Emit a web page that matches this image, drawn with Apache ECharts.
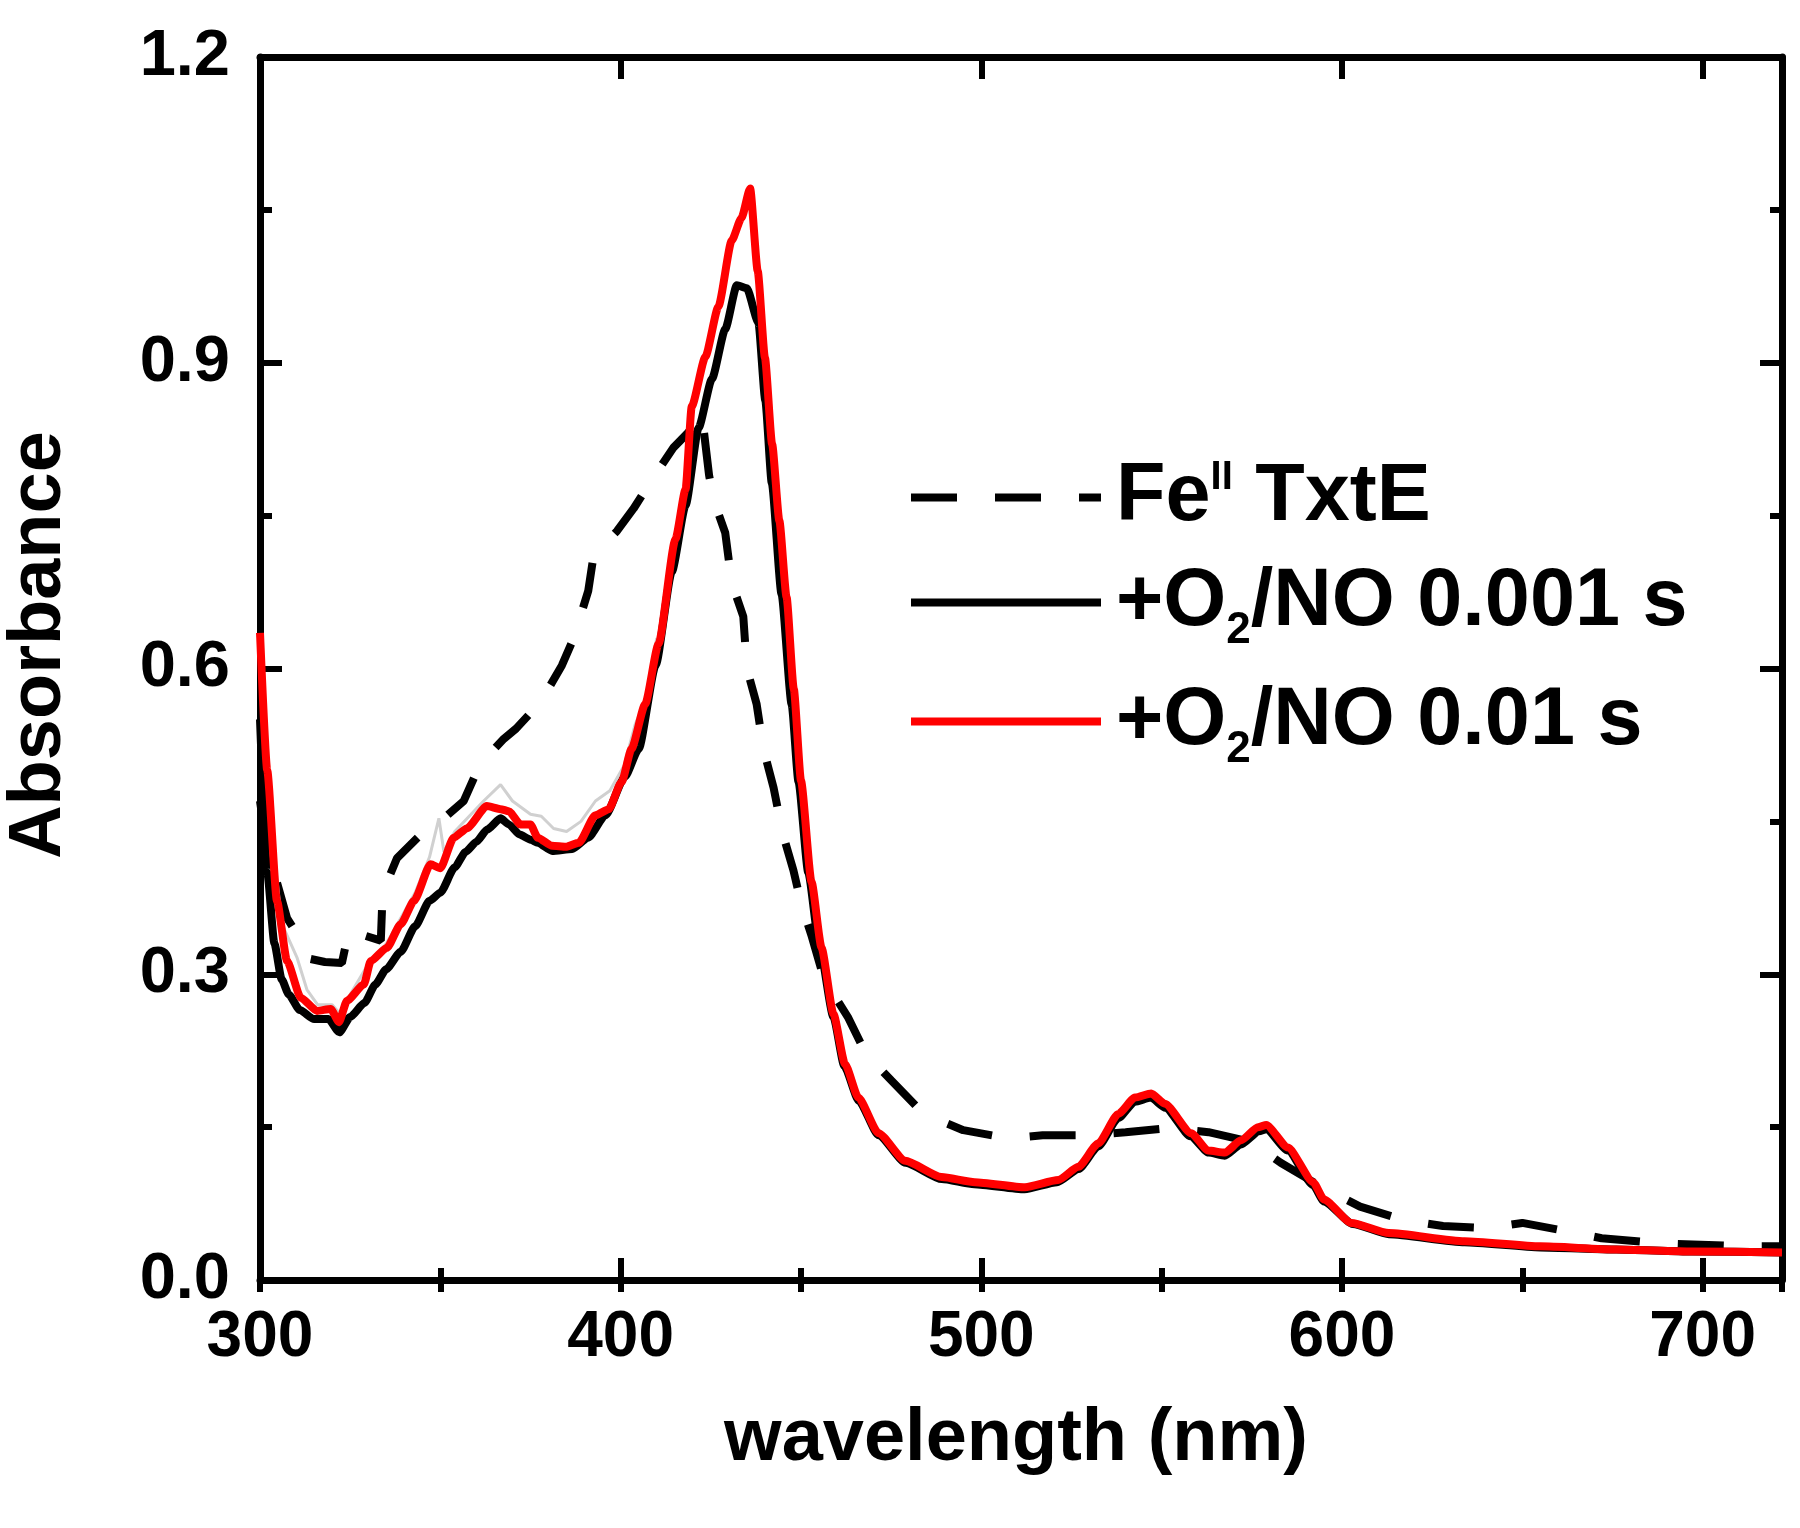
<!DOCTYPE html>
<html>
<head>
<meta charset="utf-8">
<title>Absorbance spectra</title>
<script src="https://cdn.jsdelivr.net/npm/echarts/dist/echarts.min.js"></script>
<style>
  html, body { margin: 0; padding: 0; background: #fff; }
  #main { width: 1800px; height: 1528px; }
</style>
</head>
<body>
<div id="main"></div>
<script>
// series names (legend order)
var seriesNames = ["FeII TxtE", "O2NO 0.001 s", "O2NO 0.01 s"];

// Fe(II) TxtE, dashed
var feWl = [300, 302, 304.7, 307.5, 312, 314, 318, 322.7, 324.7, 329, 333.5, 334, 338, 344, 350, 356.5, 361, 367.6, 371, 377.8,
  383.7, 387, 391, 392.5, 399, 403.6, 409, 414.7, 418.3, 421, 422.5, 424.5, 425.8, 429, 430.8, 434, 435, 437.7, 439.6, 442.4,
  445, 447.9, 450, 453, 456, 460, 463, 468, 475, 484, 495, 507.5, 517, 529, 540, 552, 563, 573, 577, 583,
  594, 605, 617, 628, 640, 650, 662, 672, 688, 712, 722];
var feAbs = [0.47, 0.42, 0.39, 0.355, 0.33, 0.315, 0.312, 0.311, 0.344, 0.338, 0.333, 0.38, 0.414, 0.435, 0.45, 0.47, 0.506, 0.531, 0.541, 0.567,
  0.603, 0.63, 0.676, 0.711, 0.735, 0.757, 0.787, 0.817, 0.83, 0.841, 0.85, 0.79, 0.765, 0.733, 0.684, 0.651, 0.60, 0.565, 0.521, 0.483,
  0.437, 0.402, 0.37, 0.337, 0.30, 0.275, 0.258, 0.222, 0.196, 0.163, 0.147, 0.139, 0.142, 0.142, 0.145, 0.149, 0.145, 0.137, 0.13, 0.115,
  0.092, 0.072, 0.059, 0.053, 0.051, 0.056, 0.048, 0.041, 0.036, 0.033, 0.033];

// +O2/NO 0.001 s, black
var fastWl = [300, 302, 304, 306, 308, 311, 315, 319, 322, 325, 329, 332, 335, 339, 343, 347, 350, 354, 357, 360,
  363, 366.7, 369, 372, 375, 377, 381, 386.6, 391, 395.8, 401.2, 405, 409.7, 414.2, 418, 421.6, 425.3, 429, 432.2, 435,
  438.2, 440.1, 441.9, 444.6, 447.4, 449.3, 452, 455, 459, 462, 466, 471.5, 479, 489, 498, 512, 521, 527, 532.4, 538,
  542.6, 547, 551, 558, 563, 567.5, 572, 577, 579, 585, 592, 595, 603, 613, 634, 655, 676, 697, 722];
var fastAbs = [0.55, 0.40, 0.33, 0.295, 0.28, 0.265, 0.256, 0.256, 0.243, 0.258, 0.272, 0.29, 0.305, 0.322, 0.347, 0.372, 0.38, 0.405, 0.42, 0.43,
  0.442, 0.453, 0.447, 0.437, 0.432, 0.429, 0.421, 0.423, 0.434, 0.456, 0.494, 0.521, 0.603, 0.695, 0.76, 0.836, 0.884, 0.933, 0.976, 0.973,
  0.939, 0.863, 0.782, 0.673, 0.565, 0.489, 0.40, 0.33, 0.258, 0.21, 0.176, 0.142, 0.115, 0.099, 0.094, 0.089, 0.096, 0.109, 0.131, 0.159,
  0.175, 0.179, 0.169, 0.141, 0.125, 0.122, 0.133, 0.146, 0.148, 0.127, 0.093, 0.077, 0.055, 0.045, 0.037, 0.032, 0.030, 0.028, 0.027];

// +O2/NO 0.01 s, red
var slowWl = [300, 302, 304.7, 307.5, 311.3, 315.8, 319.6, 321.9, 324.1, 328.8, 330.7, 335.2, 339, 342.7, 347.3, 350, 353.7, 357.3, 362.9, 366.7,
  369, 372.2, 375, 377, 381, 384.8, 388.4, 393, 396.7, 400.3, 403, 406.8, 410.5, 415.2, 418, 419.7, 423.5, 427.1, 430.8, 433.5,
  435.9, 438, 440, 442, 444, 446, 448, 450, 452.9, 455.7, 459, 462.2, 465.9, 471.5, 478.9, 489, 498.2, 512.1, 521.3, 526.9,
  532.4, 538, 542.6, 547.1, 550.9, 558.2, 562.9, 567.5, 572, 576.7, 579, 585, 592, 595, 602.6, 613, 634, 655, 676, 697, 722];
var slowAbs = [0.635, 0.50, 0.372, 0.313, 0.277, 0.264, 0.266, 0.253, 0.274, 0.29, 0.313, 0.326, 0.349, 0.372, 0.408, 0.404, 0.434, 0.443, 0.465, 0.462,
  0.46, 0.447, 0.447, 0.434, 0.426, 0.425, 0.429, 0.456, 0.462, 0.489, 0.521, 0.565, 0.624, 0.727, 0.776, 0.857, 0.906, 0.955, 1.02, 1.042,
  1.071, 0.99, 0.905, 0.82, 0.745, 0.67, 0.58, 0.49, 0.391, 0.326, 0.261, 0.212, 0.179, 0.144, 0.117, 0.101, 0.096, 0.091, 0.098, 0.111,
  0.134, 0.163, 0.179, 0.183, 0.173, 0.144, 0.127, 0.125, 0.137, 0.15, 0.152, 0.13, 0.096, 0.079, 0.056, 0.046, 0.038, 0.033, 0.030, 0.028, 0.027];

// intermediate traces (light grey, only visible below 410 nm)
var midWl = [300, 303, 306, 310.3, 313, 316, 320, 322, 325, 330, 335, 339, 343, 347, 349.6, 351, 354, 358, 362, 366.7,
  370, 375, 378, 381.4, 385, 389, 393, 397, 401, 404, 407, 410];
var midAbs = [0.63, 0.45, 0.35, 0.316, 0.285, 0.27, 0.27, 0.262, 0.28, 0.31, 0.33, 0.355, 0.38, 0.415, 0.453, 0.42, 0.44, 0.455, 0.47, 0.486,
  0.47, 0.457, 0.455, 0.443, 0.44, 0.45, 0.47, 0.48, 0.505, 0.545, 0.57, 0.63];

var xTicks = [300, 400, 500, 600, 700];

function pairs(xs, ys) {
  return xs.map(function (x, i) { return [x, ys[i]]; });
}

var FONT = "'Liberation Sans', Arial, sans-serif";
var myChart = echarts.init(document.getElementById("main"));

var baseX = {
  type: "value",
  min: 300,
  max: 722,
  splitLine: { show: false },
  axisLine: { show: true, onZero: false, lineStyle: { color: "#000", width: 7 } },
  axisLabel: { show: false }
};
var baseY = {
  type: "value",
  min: 0,
  max: 1.2,
  interval: 0.3,
  splitLine: { show: false },
  axisLine: { show: true, onZero: false, lineStyle: { color: "#000", width: 7 } },
  axisTick: { inside: true, length: 22, lineStyle: { color: "#000", width: 6 } },
  minorTick: { show: true, splitNumber: 2, length: 12, lineStyle: { color: "#000", width: 6 } },
  axisLabel: { show: false }
};

var richStyles = {
  a: { fontSize: 81, fontWeight: "bold", fontFamily: FONT, color: "#000", lineHeight: 80 },
  b: { fontSize: 81, fontWeight: "bold", fontFamily: FONT, color: "#000", lineHeight: 100 },
  sup: { fontSize: 40, fontWeight: "bold", fontFamily: FONT, color: "#000", verticalAlign: "top" },
  sub: { fontSize: 44, fontWeight: "bold", fontFamily: FONT, color: "#000", verticalAlign: "bottom" }
};
function legendLabel(name) {
  if (name === seriesNames[0]) return "{a|Fe}{sup|II}{a| TxtE}";
  if (name === seriesNames[1]) return "{b|+O}{sub|2}{b|/NO 0.001 s}";
  return "{b|+O}{sub|2}{b|/NO 0.01 s}";
}
// one legend box per entry so the uneven row spacing can be matched
var legendTops = [457, 562, 681];
var legends = seriesNames.map(function (name, i) {
  return {
    orient: "vertical",
    left: 907,
    top: legendTops[i],
    padding: 0,
    itemWidth: 190,
    itemHeight: 20,
    data: [name],
    itemStyle: { opacity: 0 },
    lineStyle: { width: 8 },
    formatter: legendLabel,
    textStyle: { color: "#000", padding: [0, 0, 0, 10], rich: richStyles }
  };
});

myChart.setOption({
  animation: false,
  backgroundColor: "#fff",
  grid: { left: 260, right: 18, top: 57, bottom: 248 },
  xAxis: [
    Object.assign({}, baseX, {
      position: "bottom",
      interval: 100,
      axisTick: { inside: true, length: 22, lineStyle: { color: "#000", width: 6 } },
      axisLabel: {
        show: true, showMaxLabel: false, margin: 26, color: "#000",
        fontSize: 64, fontWeight: "bold", fontFamily: FONT,
        formatter: function (v) { return xTicks.indexOf(v) >= 0 ? String(v) : ""; }
      }
    }),
    Object.assign({}, baseX, {
      position: "bottom",
      interval: 50,
      axisLine: { show: false },
      axisTick: { inside: true, length: 12, lineStyle: { color: "#000", width: 6 } }
    }),
    Object.assign({}, baseX, {
      position: "top",
      interval: 100,
      axisTick: { inside: true, length: 22, lineStyle: { color: "#000", width: 6 } }
    }),
    Object.assign({}, baseX, {
      position: "top",
      interval: 50,
      axisLine: { show: false },
      axisTick: { inside: true, length: 12, lineStyle: { color: "#000", width: 6 } }
    })
  ],
  yAxis: [
    Object.assign({}, baseY, {
      position: "left",
      axisLabel: {
        show: true, margin: 30, color: "#000",
        fontSize: 65, fontWeight: "bold", fontFamily: FONT,
        formatter: function (v) { return v.toFixed(1); }
      }
    }),
    Object.assign({}, baseY, { position: "right" })
  ],
  legend: legends,
  graphic: [
    {
      type: "text", x: 40, y: 645, rotation: Math.PI / 2,
      style: {
        text: "Absorbance", fill: "#000", font: "bold 74px " + FONT,
        textAlign: "center", textVerticalAlign: "middle"
      }
    },
    {
      type: "text", x: 1016, y: 1440,
      style: {
        text: "wavelength (nm)", fill: "#000", font: "bold 74px " + FONT,
        textAlign: "center", textVerticalAlign: "middle"
      }
    }
  ],
  series: [
    {
      name: seriesNames[0], type: "line", symbol: "none", z: 2,
      data: pairs(feWl, feAbs),
      lineStyle: { color: "#000", width: 8, type: [46, 38] },
      itemStyle: { color: "#000" }
    },
    {
      name: seriesNames[1], type: "line", symbol: "none", z: 3,
      smooth: 0.2, smoothMonotone: "x",
      data: pairs(fastWl, fastAbs),
      lineStyle: { color: "#000", width: 8 },
      itemStyle: { color: "#000" }
    },
    {
      name: "intermediate", type: "line", symbol: "none", z: 4,
      data: pairs(midWl, midAbs),
      lineStyle: { color: "#d0d0d0", width: 3 },
      itemStyle: { color: "#d0d0d0" }
    },
    {
      name: seriesNames[2], type: "line", symbol: "none", z: 5,
      smooth: 0.2, smoothMonotone: "x",
      data: pairs(slowWl, slowAbs),
      lineStyle: { color: "#ff0000", width: 8 },
      itemStyle: { color: "#ff0000" }
    }
  ]
});
</script>
</body>
</html>
